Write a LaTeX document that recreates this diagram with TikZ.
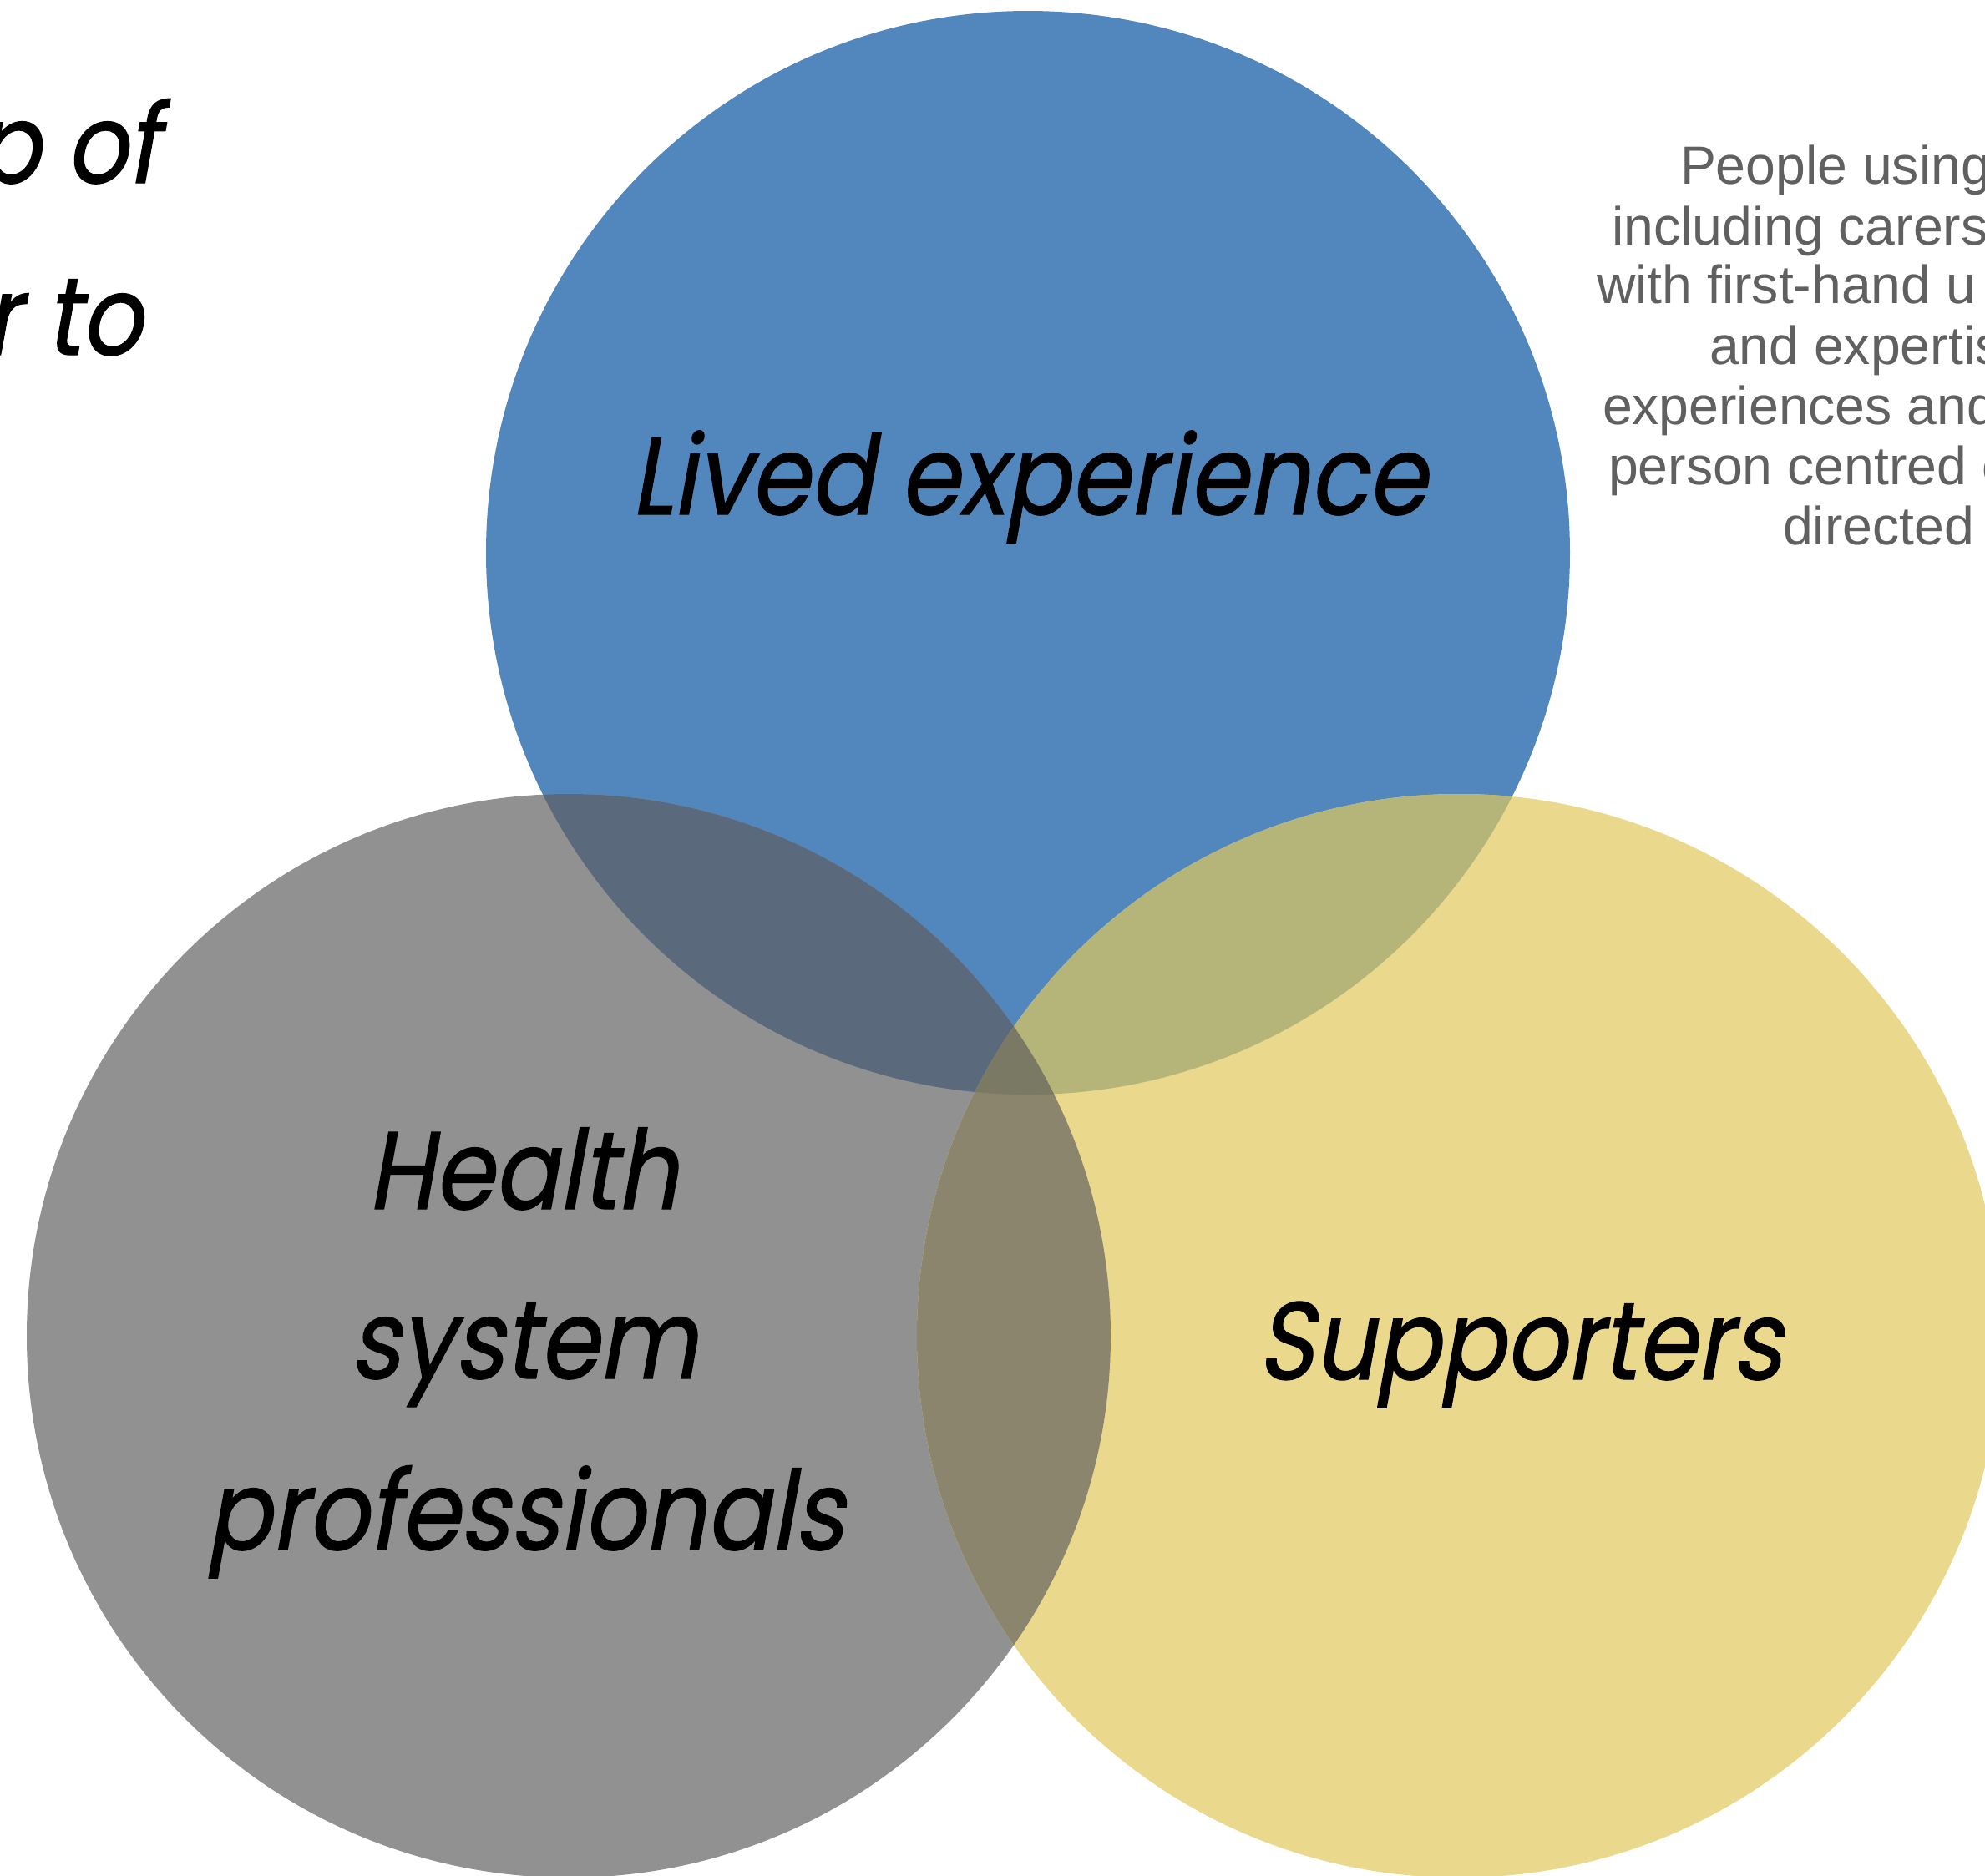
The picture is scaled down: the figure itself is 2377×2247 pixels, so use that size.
\documentclass[tikz,border=0pt]{standalone}
\usepackage{fontspec}
\setmainfont{Liberation Sans}
\newfontfamily\futfont[FakeSlant=0.18,FakeBold=1,FakeStretch=0.87]{Poppins}
\newfontfamily\helvfont{Liberation Sans}

\definecolor{livedblue}{HTML}{5287BE}
\definecolor{healthgray}{HTML}{919191}
\definecolor{suppyellow}{HTML}{EAD98C}
\definecolor{livedhealth}{HTML}{5A6A7C}
\definecolor{livedsupp}{HTML}{B5B57A}
\definecolor{healthsupp}{HTML}{8A856C}
\definecolor{allthree}{HTML}{7A7963}
\definecolor{desctext}{HTML}{606060}

\begin{document}
\begin{tikzpicture}
        [x=0.01cm, y=-0.01cm,
         every node/.style={inner sep=0, outer sep=0},
         biglabel/.style={font=\futfont\fontsize{37.5}{44}\selectfont, text=black, anchor=base},
         desc/.style={font=\helvfont\fontsize{18.3}{21}\selectfont, text=desctext, anchor=base west}]

        \useasboundingbox (0,0) rectangle (2377,2247);

        \coordinate (cL) at (1231, 662);
        \coordinate (cH) at (681, 1600);
        \coordinate (cS) at (1747, 1600);

        % circles
        \fill[livedblue] (cL) circle (649);
        \fill[healthgray] (cH) circle (649);
        \fill[suppyellow] (cS) circle (649);

        % overlaps
        \begin{scope}
          \clip (cL) circle (649);
          \fill[livedhealth] (cH) circle (649);
          \fill[livedsupp] (cS) circle (649);
        \end{scope}
        \begin{scope}
          \clip (cH) circle (649);
          \fill[healthsupp] (cS) circle (649);
          \clip (cL) circle (649);
          \fill[allthree] (cS) circle (649);
        \end{scope}

        % labels
        \node[biglabel] (lived) at (1232, 616) {Lived experience};
        \node[biglabel] (health) at (626, 1448) {Health};
        \node[biglabel] (system) at (627, 1651) {system};
        \node[biglabel] (prof) at (629, 1856) {professionals};
        \node[biglabel] (supp) at (1820, 1652) {Supporters};

        \node[biglabel, anchor=base east] (intro1) at (190, 219) {p of};
        \node[biglabel, anchor=base east] (intro2) at (170, 425) {r to};

        % side text
        \node[desc] (desc1) at (2012, 220) {People using};
        \node[desc] (desc2) at (1930, 293) {including carers};
        \node[desc] (desc3) at (1912, 363) {with first-hand u};
        \node[desc] (desc4) at (2047, 436) {and expertise};
        \node[desc] (desc5) at (1919, 508) {experiences and};
        \node[desc] (desc6) at (1926, 580) {person centred c};
        \node[desc] (desc7) at (2135, 652) {directed};

      \end{tikzpicture}
\end{document}
